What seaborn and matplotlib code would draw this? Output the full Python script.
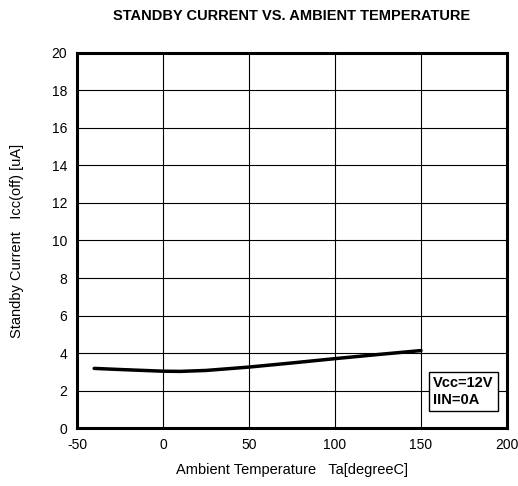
import matplotlib
matplotlib.use("Agg")
import matplotlib.pyplot as plt
import seaborn as sns
import pandas as pd

temperature = [-40, -25, 0, 10, 25, 50, 75, 100, 125, 150]
current = [3.18, 3.12, 3.03, 3.02, 3.07, 3.25, 3.47, 3.70, 3.92, 4.13]
x_ticks = [-50, 0, 50, 100, 150, 200]
y_ticks = [0, 2, 4, 6, 8, 10, 12, 14, 16, 18, 20]

sns.set_style("white")
plt.rcParams['font.family'] = ['Liberation Sans', 'DejaVu Sans']
plt.rcParams['axes.unicode_minus'] = False
plt.rcParams['text.color'] = 'black'
plt.rcParams['axes.labelcolor'] = 'black'

df = pd.DataFrame({"Ta": temperature, "Icc": current})

fig = plt.figure(figsize=(5.18, 4.86), dpi=100)
ax = fig.add_axes([0.1486, 0.1193, 0.8302, 0.7717])
sns.lineplot(data=df, x="Ta", y="Icc", ax=ax, color="black", linewidth=2.5)

ax.set_xlim(-50, 200)
ax.set_ylim(0, 20)
ax.set_xticks(x_ticks)
ax.set_yticks(y_ticks)
ax.grid(True, color="black", linewidth=0.8)
ax.set_axisbelow(True)
for s in ax.spines.values():
    s.set_linewidth(2.2)
    s.set_color("black")
ax.tick_params(axis="both", labelsize=10, length=0, pad=7, colors="black")
ax.set_xlabel("Ambient Temperature   Ta[degreeC]", fontsize=10.5, labelpad=8,
              color="black")
ax.set_ylabel("Standby Current   Icc(off) [uA]", fontsize=10.5, labelpad=20,
              color="black")
fig.suptitle("STANDBY CURRENT VS. AMBIENT TEMPERATURE", fontsize=10.5,
             fontweight="bold", y=0.982, x=0.5637, color="black")

ax.text(0.828, 0.138, "Vcc=12V\nIIN=0A", transform=ax.transAxes,
        fontsize=10.5, fontweight="bold", va="top", ha="left", linespacing=1.25,
        color="black",
        bbox=dict(boxstyle="square,pad=0.3", facecolor="white",
                  edgecolor="black", linewidth=1.0))

fig.savefig("out.png", dpi=100)
